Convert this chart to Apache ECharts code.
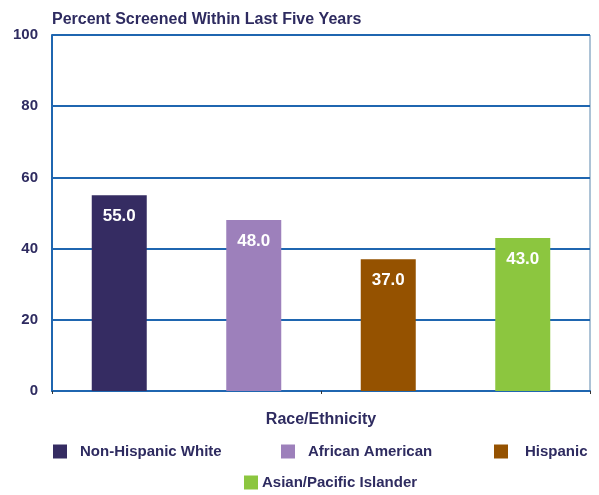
<!DOCTYPE html>
<html><head><meta charset="utf-8">
<script src="https://cdn.jsdelivr.net/npm/echarts@6/dist/echarts.min.js"></script>
<style>html,body{margin:0;padding:0;background:#fff}#c{width:599px;height:495px}</style>
</head><body><div id="c"></div>
<script>
const categories = ['Non-Hispanic White', 'African American', 'Hispanic', 'Asian/Pacific Islander'];
const values = [55.0, 48.0, 37.0, 43.0];
const yTicks = [0, 20, 40, 60, 80, 100];
const colors = ['#352c62', '#9d80bb', '#955200', '#8cc63f'];
const navy = '#2e2b60';
const blue = '#1f66b0';
const font = 'Liberation Sans, Arial, sans-serif';

const series = categories.map((name, i) => ({
  name: name,
  type: 'bar',
  stack: 'all',
  barWidth: 55,
  itemStyle: { color: colors[i] },
  label: {
    show: true, position: 'insideTop', distance: 13,
    color: '#fff', fontWeight: 'bold', fontSize: 17, fontFamily: font,
    formatter: p => Number(p.value).toFixed(1)
  },
  data: categories.map((c, j) => j === i ? values[i] : null)
}));

const legendPos = [
  { left: 53, top: 444, textPad: 13 },
  { left: 281, top: 444, textPad: 13 },
  { left: 494, top: 444, textPad: 17 },
  { left: 244, top: 475, textPad: 4 }
];

const chart = echarts.init(document.getElementById('c'), null, { renderer: 'canvas' });
chart.setOption({
  animation: false,
  title: {
    text: 'Percent Screened Within Last Five Years',
    left: 47, top: 7,
    textStyle: { color: navy, fontSize: 16, fontWeight: 'bold', fontFamily: font }
  },
  legend: categories.map((name, i) => ({
    data: [name],
    left: legendPos[i].left, top: legendPos[i].top,
    itemWidth: 14, itemHeight: 14, icon: 'rect',
    itemGap: 0,
    padding: 0,
    selectedMode: false,
    textStyle: { color: navy, fontSize: 15, fontWeight: 'bold', fontFamily: font, padding: [0, 0, 0, legendPos[i].textPad - 5] }
  })),
  grid: {
    left: 52, right: 9, top: 35, bottom: 104,
    show: true, borderColor: '#5b86ad', borderWidth: 1
  },
  xAxis: {
    type: 'category',
    data: categories,
    name: 'Race/Ethnicity',
    nameLocation: 'middle',
    nameGap: 21,
    nameTextStyle: { color: navy, fontSize: 16, fontWeight: 'bold', fontFamily: font },
    axisLine: { lineStyle: { color: blue, width: 2 } },
    axisTick: { show: true, length: 3, lineStyle: { color: '#333', width: 1 } },
    axisLabel: { show: false },
    splitLine: { show: false }
  },
  yAxis: {
    type: 'value',
    min: yTicks[0], max: yTicks[yTicks.length - 1], interval: 20,
    axisLine: { show: true, lineStyle: { color: blue, width: 2 } },
    axisTick: { show: false },
    axisLabel: { color: navy, fontSize: 15, fontWeight: 'bold', fontFamily: font, margin: 14 },
    splitLine: { lineStyle: { color: blue, width: 2 } }
  },
  series: series
});
</script>
</body></html>
